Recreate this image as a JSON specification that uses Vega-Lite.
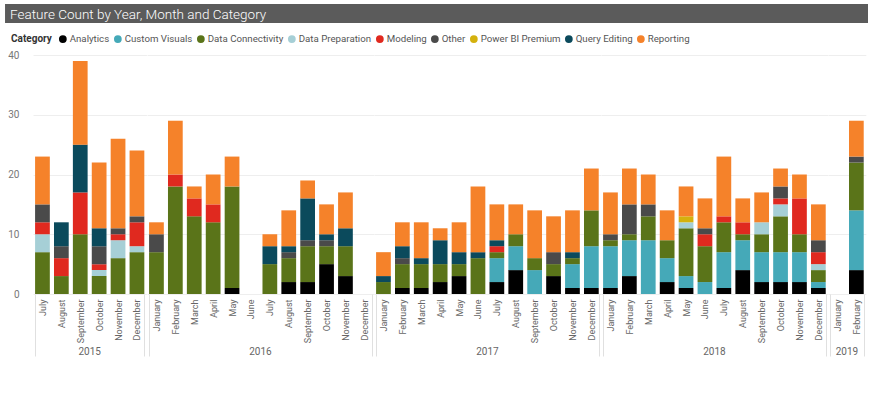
{
  "$schema": "https://vega.github.io/schema/vega-lite/v6.json",
  "padding": {"left": 5, "top": 4, "right": 5, "bottom": 5},
  "background": "white",
  "columns": 1,
  "spacing": 27,
  "config": {"font": "Roboto", "view": {"stroke": null}},
  "datasets": {
    "features": [
      {"year": 2015, "m": 7, "c": "Data Connectivity", "n": 7},
      {"year": 2015, "m": 7, "c": "Data Preparation", "n": 3},
      {"year": 2015, "m": 7, "c": "Modeling", "n": 2},
      {"year": 2015, "m": 7, "c": "Other", "n": 3},
      {"year": 2015, "m": 7, "c": "Reporting", "n": 8},
      {"year": 2015, "m": 8, "c": "Data Connectivity", "n": 3},
      {"year": 2015, "m": 8, "c": "Modeling", "n": 3},
      {"year": 2015, "m": 8, "c": "Other", "n": 2},
      {"year": 2015, "m": 8, "c": "Query Editing", "n": 4},
      {"year": 2015, "m": 9, "c": "Data Connectivity", "n": 10},
      {"year": 2015, "m": 9, "c": "Modeling", "n": 7},
      {"year": 2015, "m": 9, "c": "Query Editing", "n": 8},
      {"year": 2015, "m": 9, "c": "Reporting", "n": 14},
      {"year": 2015, "m": 10, "c": "Data Connectivity", "n": 3},
      {"year": 2015, "m": 10, "c": "Data Preparation", "n": 1},
      {"year": 2015, "m": 10, "c": "Modeling", "n": 1},
      {"year": 2015, "m": 10, "c": "Other", "n": 3},
      {"year": 2015, "m": 10, "c": "Query Editing", "n": 3},
      {"year": 2015, "m": 10, "c": "Reporting", "n": 11},
      {"year": 2015, "m": 11, "c": "Data Connectivity", "n": 6},
      {"year": 2015, "m": 11, "c": "Data Preparation", "n": 3},
      {"year": 2015, "m": 11, "c": "Modeling", "n": 1},
      {"year": 2015, "m": 11, "c": "Other", "n": 1},
      {"year": 2015, "m": 11, "c": "Reporting", "n": 15},
      {"year": 2015, "m": 12, "c": "Data Connectivity", "n": 7},
      {"year": 2015, "m": 12, "c": "Data Preparation", "n": 1},
      {"year": 2015, "m": 12, "c": "Modeling", "n": 4},
      {"year": 2015, "m": 12, "c": "Other", "n": 1},
      {"year": 2015, "m": 12, "c": "Reporting", "n": 11},
      {"year": 2016, "m": 1, "c": "Data Connectivity", "n": 7},
      {"year": 2016, "m": 1, "c": "Other", "n": 3},
      {"year": 2016, "m": 1, "c": "Reporting", "n": 2},
      {"year": 2016, "m": 2, "c": "Data Connectivity", "n": 18},
      {"year": 2016, "m": 2, "c": "Modeling", "n": 2},
      {"year": 2016, "m": 2, "c": "Reporting", "n": 9},
      {"year": 2016, "m": 3, "c": "Data Connectivity", "n": 13},
      {"year": 2016, "m": 3, "c": "Modeling", "n": 3},
      {"year": 2016, "m": 3, "c": "Reporting", "n": 2},
      {"year": 2016, "m": 4, "c": "Data Connectivity", "n": 12},
      {"year": 2016, "m": 4, "c": "Modeling", "n": 3},
      {"year": 2016, "m": 4, "c": "Reporting", "n": 5},
      {"year": 2016, "m": 5, "c": "Analytics", "n": 1},
      {"year": 2016, "m": 5, "c": "Data Connectivity", "n": 17},
      {"year": 2016, "m": 5, "c": "Reporting", "n": 5},
      {"year": 2016, "m": 6, "c": "Reporting", "n": 0},
      {"year": 2016, "m": 7, "c": "Data Connectivity", "n": 5},
      {"year": 2016, "m": 7, "c": "Query Editing", "n": 3},
      {"year": 2016, "m": 7, "c": "Reporting", "n": 2},
      {"year": 2016, "m": 8, "c": "Analytics", "n": 2},
      {"year": 2016, "m": 8, "c": "Data Connectivity", "n": 4},
      {"year": 2016, "m": 8, "c": "Other", "n": 1},
      {"year": 2016, "m": 8, "c": "Query Editing", "n": 1},
      {"year": 2016, "m": 8, "c": "Reporting", "n": 6},
      {"year": 2016, "m": 9, "c": "Analytics", "n": 2},
      {"year": 2016, "m": 9, "c": "Data Connectivity", "n": 6},
      {"year": 2016, "m": 9, "c": "Other", "n": 1},
      {"year": 2016, "m": 9, "c": "Query Editing", "n": 7},
      {"year": 2016, "m": 9, "c": "Reporting", "n": 3},
      {"year": 2016, "m": 10, "c": "Analytics", "n": 5},
      {"year": 2016, "m": 10, "c": "Data Connectivity", "n": 3},
      {"year": 2016, "m": 10, "c": "Other", "n": 1},
      {"year": 2016, "m": 10, "c": "Query Editing", "n": 1},
      {"year": 2016, "m": 10, "c": "Reporting", "n": 5},
      {"year": 2016, "m": 11, "c": "Analytics", "n": 3},
      {"year": 2016, "m": 11, "c": "Data Connectivity", "n": 5},
      {"year": 2016, "m": 11, "c": "Query Editing", "n": 3},
      {"year": 2016, "m": 11, "c": "Reporting", "n": 6},
      {"year": 2016, "m": 12, "c": "Reporting", "n": 0},
      {"year": 2017, "m": 1, "c": "Data Connectivity", "n": 2},
      {"year": 2017, "m": 1, "c": "Query Editing", "n": 1},
      {"year": 2017, "m": 1, "c": "Reporting", "n": 4},
      {"year": 2017, "m": 2, "c": "Analytics", "n": 1},
      {"year": 2017, "m": 2, "c": "Data Connectivity", "n": 4},
      {"year": 2017, "m": 2, "c": "Other", "n": 1},
      {"year": 2017, "m": 2, "c": "Query Editing", "n": 2},
      {"year": 2017, "m": 2, "c": "Reporting", "n": 4},
      {"year": 2017, "m": 3, "c": "Analytics", "n": 1},
      {"year": 2017, "m": 3, "c": "Data Connectivity", "n": 4},
      {"year": 2017, "m": 3, "c": "Query Editing", "n": 1},
      {"year": 2017, "m": 3, "c": "Reporting", "n": 6},
      {"year": 2017, "m": 4, "c": "Analytics", "n": 2},
      {"year": 2017, "m": 4, "c": "Data Connectivity", "n": 3},
      {"year": 2017, "m": 4, "c": "Query Editing", "n": 4},
      {"year": 2017, "m": 4, "c": "Reporting", "n": 2},
      {"year": 2017, "m": 5, "c": "Analytics", "n": 3},
      {"year": 2017, "m": 5, "c": "Data Connectivity", "n": 2},
      {"year": 2017, "m": 5, "c": "Query Editing", "n": 2},
      {"year": 2017, "m": 5, "c": "Reporting", "n": 5},
      {"year": 2017, "m": 6, "c": "Data Connectivity", "n": 6},
      {"year": 2017, "m": 6, "c": "Query Editing", "n": 1},
      {"year": 2017, "m": 6, "c": "Reporting", "n": 11},
      {"year": 2017, "m": 7, "c": "Analytics", "n": 2},
      {"year": 2017, "m": 7, "c": "Custom Visuals", "n": 4},
      {"year": 2017, "m": 7, "c": "Data Connectivity", "n": 1},
      {"year": 2017, "m": 7, "c": "Modeling", "n": 1},
      {"year": 2017, "m": 7, "c": "Query Editing", "n": 1},
      {"year": 2017, "m": 7, "c": "Reporting", "n": 6},
      {"year": 2017, "m": 8, "c": "Analytics", "n": 4},
      {"year": 2017, "m": 8, "c": "Custom Visuals", "n": 4},
      {"year": 2017, "m": 8, "c": "Data Connectivity", "n": 2},
      {"year": 2017, "m": 8, "c": "Reporting", "n": 5},
      {"year": 2017, "m": 9, "c": "Custom Visuals", "n": 4},
      {"year": 2017, "m": 9, "c": "Data Connectivity", "n": 2},
      {"year": 2017, "m": 9, "c": "Reporting", "n": 8},
      {"year": 2017, "m": 10, "c": "Analytics", "n": 3},
      {"year": 2017, "m": 10, "c": "Data Connectivity", "n": 2},
      {"year": 2017, "m": 10, "c": "Other", "n": 2},
      {"year": 2017, "m": 10, "c": "Reporting", "n": 6},
      {"year": 2017, "m": 11, "c": "Analytics", "n": 1},
      {"year": 2017, "m": 11, "c": "Custom Visuals", "n": 4},
      {"year": 2017, "m": 11, "c": "Data Connectivity", "n": 1},
      {"year": 2017, "m": 11, "c": "Query Editing", "n": 1},
      {"year": 2017, "m": 11, "c": "Reporting", "n": 7},
      {"year": 2017, "m": 12, "c": "Analytics", "n": 1},
      {"year": 2017, "m": 12, "c": "Custom Visuals", "n": 7},
      {"year": 2017, "m": 12, "c": "Data Connectivity", "n": 6},
      {"year": 2017, "m": 12, "c": "Reporting", "n": 7},
      {"year": 2018, "m": 1, "c": "Analytics", "n": 1},
      {"year": 2018, "m": 1, "c": "Custom Visuals", "n": 7},
      {"year": 2018, "m": 1, "c": "Data Connectivity", "n": 1},
      {"year": 2018, "m": 1, "c": "Other", "n": 1},
      {"year": 2018, "m": 1, "c": "Reporting", "n": 7},
      {"year": 2018, "m": 2, "c": "Analytics", "n": 3},
      {"year": 2018, "m": 2, "c": "Custom Visuals", "n": 6},
      {"year": 2018, "m": 2, "c": "Data Connectivity", "n": 1},
      {"year": 2018, "m": 2, "c": "Other", "n": 5},
      {"year": 2018, "m": 2, "c": "Reporting", "n": 6},
      {"year": 2018, "m": 3, "c": "Custom Visuals", "n": 9},
      {"year": 2018, "m": 3, "c": "Data Connectivity", "n": 4},
      {"year": 2018, "m": 3, "c": "Other", "n": 2},
      {"year": 2018, "m": 3, "c": "Reporting", "n": 5},
      {"year": 2018, "m": 4, "c": "Analytics", "n": 2},
      {"year": 2018, "m": 4, "c": "Custom Visuals", "n": 4},
      {"year": 2018, "m": 4, "c": "Data Connectivity", "n": 3},
      {"year": 2018, "m": 4, "c": "Reporting", "n": 5},
      {"year": 2018, "m": 5, "c": "Analytics", "n": 1},
      {"year": 2018, "m": 5, "c": "Custom Visuals", "n": 2},
      {"year": 2018, "m": 5, "c": "Data Connectivity", "n": 8},
      {"year": 2018, "m": 5, "c": "Data Preparation", "n": 1},
      {"year": 2018, "m": 5, "c": "Power BI Premium", "n": 1},
      {"year": 2018, "m": 5, "c": "Reporting", "n": 5},
      {"year": 2018, "m": 6, "c": "Custom Visuals", "n": 2},
      {"year": 2018, "m": 6, "c": "Data Connectivity", "n": 6},
      {"year": 2018, "m": 6, "c": "Modeling", "n": 2},
      {"year": 2018, "m": 6, "c": "Other", "n": 1},
      {"year": 2018, "m": 6, "c": "Reporting", "n": 5},
      {"year": 2018, "m": 7, "c": "Analytics", "n": 1},
      {"year": 2018, "m": 7, "c": "Custom Visuals", "n": 6},
      {"year": 2018, "m": 7, "c": "Data Connectivity", "n": 5},
      {"year": 2018, "m": 7, "c": "Modeling", "n": 1},
      {"year": 2018, "m": 7, "c": "Reporting", "n": 10},
      {"year": 2018, "m": 8, "c": "Analytics", "n": 4},
      {"year": 2018, "m": 8, "c": "Custom Visuals", "n": 5},
      {"year": 2018, "m": 8, "c": "Data Connectivity", "n": 1},
      {"year": 2018, "m": 8, "c": "Modeling", "n": 2},
      {"year": 2018, "m": 8, "c": "Reporting", "n": 4},
      {"year": 2018, "m": 9, "c": "Analytics", "n": 2},
      {"year": 2018, "m": 9, "c": "Custom Visuals", "n": 5},
      {"year": 2018, "m": 9, "c": "Data Connectivity", "n": 3},
      {"year": 2018, "m": 9, "c": "Data Preparation", "n": 2},
      {"year": 2018, "m": 9, "c": "Reporting", "n": 5},
      {"year": 2018, "m": 10, "c": "Analytics", "n": 2},
      {"year": 2018, "m": 10, "c": "Custom Visuals", "n": 5},
      {"year": 2018, "m": 10, "c": "Data Connectivity", "n": 6},
      {"year": 2018, "m": 10, "c": "Data Preparation", "n": 2},
      {"year": 2018, "m": 10, "c": "Modeling", "n": 1},
      {"year": 2018, "m": 10, "c": "Other", "n": 2},
      {"year": 2018, "m": 10, "c": "Reporting", "n": 3},
      {"year": 2018, "m": 11, "c": "Analytics", "n": 2},
      {"year": 2018, "m": 11, "c": "Custom Visuals", "n": 5},
      {"year": 2018, "m": 11, "c": "Data Connectivity", "n": 3},
      {"year": 2018, "m": 11, "c": "Modeling", "n": 6},
      {"year": 2018, "m": 11, "c": "Reporting", "n": 4},
      {"year": 2018, "m": 12, "c": "Analytics", "n": 1},
      {"year": 2018, "m": 12, "c": "Custom Visuals", "n": 1},
      {"year": 2018, "m": 12, "c": "Data Connectivity", "n": 2},
      {"year": 2018, "m": 12, "c": "Data Preparation", "n": 1},
      {"year": 2018, "m": 12, "c": "Modeling", "n": 2},
      {"year": 2018, "m": 12, "c": "Other", "n": 2},
      {"year": 2018, "m": 12, "c": "Reporting", "n": 6},
      {"year": 2019, "m": 1, "c": "Reporting", "n": 0},
      {"year": 2019, "m": 2, "c": "Analytics", "n": 4},
      {"year": 2019, "m": 2, "c": "Custom Visuals", "n": 10},
      {"year": 2019, "m": 2, "c": "Data Connectivity", "n": 8},
      {"year": 2019, "m": 2, "c": "Other", "n": 1},
      {"year": 2019, "m": 2, "c": "Reporting", "n": 6}
    ]
  },
  "concat": [
    {
      "width": 835,
      "height": 19,
      "view": {"stroke": null},
      "data": {"values": [{"t": "Feature Count by Year, Month and Category"}]},
      "layer": [
        {
          "mark": {"type": "rect", "color": "#5b5b5b", "clip": false},
          "encoding": {
            "x": {"datum": -0.0335, "type": "quantitative", "scale": {"domain": [0, 1]}, "axis": null},
            "x2": {"datum": 1}
          }
        },
        {
          "mark": {"type": "text", "align": "left", "baseline": "middle", "dx": 5, "dy": 1, "color": "#ffffff", "fontSize": 13.5, "fontWeight": 300, "font": "Roboto"},
          "encoding": {
            "text": {"field": "t"},
            "x": {"datum": -0.0335, "type": "quantitative", "scale": {"domain": [0, 1]}, "axis": null}
          }
        }
      ]
    },
    {
      "data": {"name": "features"},
      "spacing": 0,
      "bounds": "flush",
      "facet": {
        "column": {
          "field": "year",
          "type": "ordinal",
          "header": {"title": null, "labelOrient": "bottom", "labelFontSize": 10, "labelColor": "#666666", "labelPadding": 53, "labelFont": "Roboto"}
        }
      },
      "resolve": {"scale": {"x": "independent"}},
      "spec": {
        "width": {"step": 18.9},
        "height": 239,
        "mark": {"type": "bar"},
        "encoding": {
          "x": {
            "field": "m",
            "type": "ordinal",
            "scale": {"paddingInner": 0.22, "paddingOuter": 0.11},
            "axis": {
              "title": null,
              "domain": false,
              "tickBand": "extent",
              "tickSize": 62,
              "tickColor": {"condition": {"test": "datum.index === 1 || datum.index === -1", "value": "#e0e0e0"}, "value": "transparent"},
              "labelPadding": -57,
              "labelAngle": -90,
              "labelFontSize": 9,
              "labelColor": "#666666",
              "labelExpr": "['January','February','March','April','May','June','July','August','September','October','November','December'][datum.value - 1]"
            }
          },
          "y": {
            "field": "n",
            "type": "quantitative",
            "scale": {"domain": [0, 40]},
            "axis": {"title": null, "values": [0, 10, 20, 30, 40], "domain": false, "ticks": false, "gridColor": "#eeeeee", "labelPadding": 14, "labelFontSize": 10, "labelColor": "#777777"}
          },
          "color": {
            "field": "c",
            "type": "nominal",
            "scale": {
              "domain": ["Analytics", "Custom Visuals", "Data Connectivity", "Data Preparation", "Modeling", "Other", "Power BI Premium", "Query Editing", "Reporting"],
              "range": ["#000000", "#45a9b8", "#5a7419", "#a6cfd6", "#e0291f", "#4a4a4a", "#d4b10d", "#0b4a5c", "#f5822a"]
            },
            "legend": {
              "title": "Category",
              "orient": "none",
              "legendX": -22,
              "legendY": 30,
              "direction": "horizontal",
              "titleOrient": "left",
              "titleFontSize": 10,
              "titleFontWeight": "bold",
              "titleColor": "#333333",
              "titlePadding": 6,
              "symbolType": "circle",
              "symbolSize": 60,
              "symbolStrokeWidth": 0,
              "labelFontSize": 9.7,
              "labelColor": "#555555",
              "labelOffset": 2,
              "columnPadding": 3
            }
          },
          "order": {"field": "c", "sort": "ascending"}
        }
      }
    }
  ]
}
